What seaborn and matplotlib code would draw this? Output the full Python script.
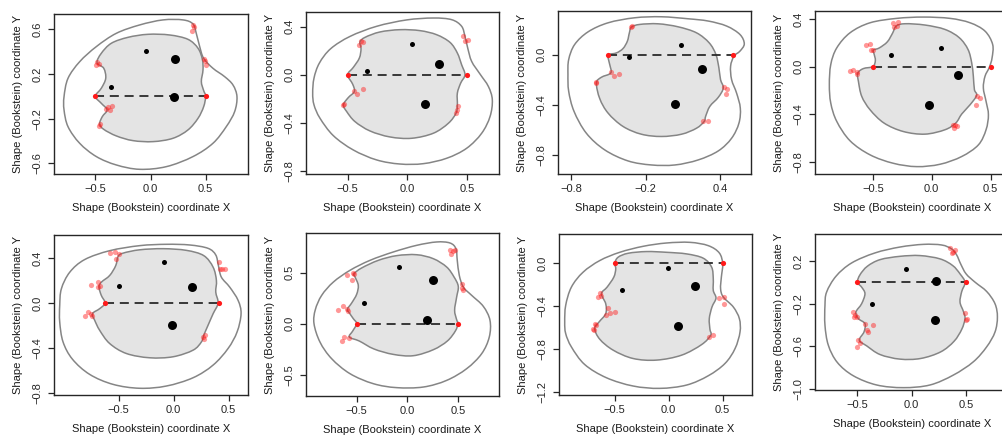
#!/usr/bin/env python3
"""Eight Bookstein shape panels: outer/inner outlines, landmarks, baseline."""
import numpy as np
import matplotlib
matplotlib.use("Agg")
import matplotlib.pyplot as plt
from matplotlib.path import Path
from matplotlib.patches import PathPatch
import seaborn as sns

# ---- data (Bookstein coordinates) ----
BASE = [(-0.5, 0.0), (0.5, 0.0)]

P1_OUTER = [(-0.784, -0.003), (-0.748, 0.161), (-0.642, 0.310), (-0.491, 0.445), (-0.310, 0.564),
            (-0.098, 0.639), (0.113, 0.684), (0.295, 0.684), (0.385, 0.648), (0.415, 0.564),
            (0.446, 0.445), (0.482, 0.340), (0.566, 0.251), (0.672, 0.176), (0.748, 0.101),
            (0.784, -0.003), (0.763, -0.137), (0.687, -0.272), (0.566, -0.421), (0.385, -0.540),
            (0.144, -0.630), (-0.098, -0.654), (-0.310, -0.615), (-0.491, -0.540), (-0.642, -0.421),
            (-0.748, -0.272), (-0.784, -0.122)]
P1_INNER = [(-0.5, 0.0), (-0.446, 0.072), (-0.406, 0.161), (-0.424, 0.251), (-0.485, 0.301),
            (-0.446, 0.385), (-0.355, 0.475), (-0.204, 0.528), (-0.023, 0.555), (0.174, 0.549),
            (0.340, 0.510), (0.431, 0.430), (0.470, 0.331), (0.476, 0.236), (0.461, 0.131),
            (0.482, 0.051), (0.5, 0.0), (0.482, -0.093), (0.431, -0.197), (0.340, -0.301),
            (0.204, -0.376), (0.023, -0.406), (-0.159, -0.397), (-0.310, -0.355), (-0.424, -0.296),
            (-0.461, -0.248), (-0.437, -0.182), (-0.394, -0.122), (-0.446, -0.063)]
P1_RED = [(-0.485, 0.310), (-0.467, 0.290), (-0.497, 0.278), (0.385, 0.642), (0.373, 0.588),
          (0.391, 0.624), (0.482, 0.337), (0.494, 0.313), (0.506, 0.284), (-0.406, -0.116),
          (-0.382, -0.099), (-0.346, -0.087), (-0.370, -0.122), (-0.461, -0.251), (-0.467, -0.263)]
P1_SMALL = [(-0.355, 0.081), (-0.038, 0.409)]
P1_LARGE = [(0.219, 0.337), (0.210, -0.009)]

P2_OUTER = [(-0.793, -0.153), (-0.782, -0.028), (-0.737, 0.097), (-0.642, 0.217), (-0.480, 0.319),
            (-0.257, 0.403), (-0.006, 0.456), (0.218, 0.472), (0.372, 0.458), (0.455, 0.403),
            (0.483, 0.319), (0.506, 0.222), (0.539, 0.111), (0.609, 0.006), (0.679, -0.097),
            (0.712, -0.208), (0.693, -0.347), (0.623, -0.486), (0.497, -0.611), (0.330, -0.694),
            (0.134, -0.739), (-0.061, -0.742), (-0.257, -0.708), (-0.453, -0.625), (-0.620, -0.506),
            (-0.732, -0.361), (-0.782, -0.250)]
P2_INNER = [(-0.5, 0.0), (-0.453, 0.061), (-0.402, 0.139), (-0.388, 0.217), (-0.397, 0.272),
            (-0.355, 0.311), (-0.229, 0.356), (-0.061, 0.375), (0.106, 0.367), (0.246, 0.333),
            (0.358, 0.269), (0.419, 0.181), (0.455, 0.083), (0.483, 0.0), (0.447, -0.069),
            (0.419, -0.153), (0.419, -0.250), (0.408, -0.319), (0.344, -0.403), (0.218, -0.486),
            (0.036, -0.528), (-0.145, -0.517), (-0.313, -0.467), (-0.439, -0.389), (-0.508, -0.306),
            (-0.536, -0.250), (-0.494, -0.189), (-0.444, -0.139), (-0.458, -0.078)]
P2_RED = [(-0.391, 0.278), (-0.374, 0.269), (-0.402, 0.250), (0.464, 0.319), (0.483, 0.278),
          (0.506, 0.292), (-0.444, -0.133), (-0.419, -0.156), (-0.374, -0.119), (-0.542, -0.250),
          (-0.527, -0.244), (0.413, -0.292), (0.422, -0.256), (0.408, -0.319)]
P2_SMALL = [(-0.335, 0.033), (0.039, 0.258)]
P2_LARGE = [(0.268, 0.089), (0.148, -0.242)]

P3_OUTER = [(-0.826, -0.160), (-0.820, -0.040), (-0.772, 0.080), (-0.664, 0.181), (-0.503, 0.253),
            (-0.289, 0.293), (-0.074, 0.301), (0.141, 0.285), (0.302, 0.267), (0.450, 0.227),
            (0.557, 0.160), (0.592, 0.085), (0.557, 0.027), (0.509, -0.013), (0.482, -0.093),
            (0.490, -0.200), (0.530, -0.307), (0.560, -0.427), (0.549, -0.547), (0.490, -0.667),
            (0.383, -0.768), (0.221, -0.840), (0.034, -0.880), (-0.154, -0.880), (-0.342, -0.848),
            (-0.530, -0.760), (-0.678, -0.627), (-0.777, -0.453), (-0.820, -0.293)]
P3_INNER = [(-0.5, 0.0), (-0.436, 0.013), (-0.383, 0.048), (-0.348, 0.107), (-0.332, 0.173),
            (-0.315, 0.219), (-0.248, 0.240), (-0.101, 0.245), (0.060, 0.221), (0.208, 0.173),
            (0.310, 0.093), (0.364, 0.0), (0.388, -0.107), (0.401, -0.200), (0.423, -0.267),
            (0.383, -0.341), (0.315, -0.413), (0.281, -0.493), (0.270, -0.533), (0.208, -0.587),
            (0.087, -0.635), (-0.074, -0.653), (-0.235, -0.635), (-0.383, -0.573), (-0.503, -0.467),
            (-0.570, -0.352), (-0.597, -0.227), (-0.557, -0.181), (-0.482, -0.147), (-0.490, -0.080),
            (-0.503, -0.027)]
P3_RED = [(-0.321, 0.219), (-0.307, 0.227), (-0.477, -0.139), (-0.455, -0.168), (-0.417, -0.152),
          (-0.603, -0.219), (-0.597, -0.227), (0.431, -0.261), (0.455, -0.272), (0.442, -0.315),
          (0.256, -0.533), (0.297, -0.528)]
P3_SMALL = [(-0.337, -0.019), (0.087, 0.075)]
P3_LARGE = [(0.251, -0.112), (0.034, -0.392)]

P4_OUTER = [(-0.870, -0.152), (-0.858, 0.017), (-0.807, 0.157), (-0.694, 0.284), (-0.524, 0.368),
            (-0.297, 0.405), (-0.071, 0.416), (0.156, 0.405), (0.326, 0.368), (0.453, 0.298),
            (0.518, 0.186), (0.513, 0.073), (0.490, -0.006), (0.453, -0.082), (0.439, -0.180),
            (0.462, -0.292), (0.482, -0.405), (0.462, -0.531), (0.397, -0.658), (0.255, -0.756),
            (0.071, -0.821), (-0.127, -0.841), (-0.326, -0.813), (-0.524, -0.742), (-0.694, -0.624),
            (-0.807, -0.461), (-0.858, -0.307)]
P4_INNER = [(-0.5, 0.0), (-0.479, 0.051), (-0.490, 0.107), (-0.496, 0.138), (-0.445, 0.157),
            (-0.377, 0.208), (-0.331, 0.284), (-0.303, 0.340), (-0.227, 0.360), (-0.057, 0.349),
            (0.113, 0.312), (0.235, 0.242), (0.309, 0.143), (0.340, 0.031), (0.354, -0.082),
            (0.363, -0.194), (0.382, -0.242), (0.326, -0.321), (0.255, -0.399), (0.204, -0.475),
            (0.113, -0.531), (-0.057, -0.568), (-0.241, -0.546), (-0.405, -0.475), (-0.524, -0.363),
            (-0.595, -0.250), (-0.623, -0.124), (-0.629, -0.056), (-0.581, -0.017)]
P4_RED = [(-0.326, 0.368), (-0.283, 0.371), (-0.292, 0.340), (-0.320, 0.332), (-0.558, 0.180),
          (-0.524, 0.186), (-0.501, 0.143), (-0.516, 0.138), (-0.694, -0.034), (-0.666, -0.025),
          (-0.637, -0.048), (-0.632, -0.062), (0.382, -0.245), (0.411, -0.264), (0.377, -0.326),
          (0.178, -0.489), (0.198, -0.495), (0.218, -0.503), (0.190, -0.517)]
P4_SMALL = [(-0.348, 0.101), (0.076, 0.152)]
P4_LARGE = [(0.227, -0.073), (-0.023, -0.321)]

# panel 5 sits off-centre against its own tick marks in the picture
P5_BASE = [(-0.624, 0.0), (0.409, 0.0)]
P5_OUTER = [(-1.036, -0.021), (-1.021, 0.127), (-0.945, 0.275), (-0.809, 0.388), (-0.582, 0.467),
            (-0.309, 0.512), (-0.067, 0.524), (0.145, 0.518), (0.312, 0.488), (0.382, 0.429),
            (0.406, 0.334), (0.433, 0.231), (0.509, 0.142), (0.585, 0.024), (0.612, -0.095),
            (0.576, -0.257), (0.494, -0.405), (0.358, -0.553), (0.176, -0.666), (-0.067, -0.740),
            (-0.309, -0.760), (-0.552, -0.725), (-0.764, -0.636), (-0.921, -0.500), (-1.006, -0.346),
            (-1.036, -0.169)]
P5_INNER = [(-0.624, 0.0), (-0.673, -0.050), (-0.739, -0.095), (-0.718, -0.154), (-0.673, -0.243),
            (-0.582, -0.361), (-0.430, -0.450), (-0.218, -0.488), (-0.006, -0.479), (0.176, -0.420),
            (0.252, -0.346), (0.273, -0.287), (0.312, -0.198), (0.358, -0.095), (0.403, 0.0),
            (0.382, 0.098), (0.388, 0.201), (0.358, 0.320), (0.273, 0.423), (0.115, 0.470),
            (-0.097, 0.485), (-0.309, 0.475), (-0.461, 0.445), (-0.506, 0.415), (-0.527, 0.334),
            (-0.582, 0.246), (-0.658, 0.186), (-0.679, 0.142), (-0.658, 0.068)]
P5_RED = [(-0.582, 0.447), (-0.536, 0.459), (-0.497, 0.438), (-0.521, 0.393), (-0.748, 0.163),
          (-0.688, 0.186), (-0.667, 0.151), (-0.685, 0.142), (-0.809, -0.115), (-0.779, -0.080),
          (-0.748, -0.095), (-0.739, -0.118), (0.409, 0.370), (0.418, 0.305), (0.442, 0.305),
          (0.464, 0.305), (0.267, -0.302), (0.282, -0.287), (0.273, -0.322)]
P5_SMALL = [(-0.500, 0.148), (-0.091, 0.364)]
P5_LARGE = [(0.170, 0.139), (-0.012, -0.192)]

P6_OUTER = [(-0.921, 0.0), (-0.908, 0.137), (-0.845, 0.278), (-0.730, 0.408), (-0.566, 0.523),
            (-0.368, 0.621), (-0.138, 0.703), (0.092, 0.768), (0.289, 0.801), (0.421, 0.791),
            (0.480, 0.735), (0.493, 0.621), (0.513, 0.474), (0.553, 0.359), (0.635, 0.278),
            (0.750, 0.170), (0.816, 0.033), (0.809, -0.131), (0.734, -0.294), (0.586, -0.441),
            (0.388, -0.556), (0.158, -0.621), (-0.105, -0.627), (-0.336, -0.588), (-0.566, -0.490),
            (-0.747, -0.343), (-0.862, -0.180)]
P6_INNER = [(-0.5, 0.0), (-0.533, 0.049), (-0.572, 0.105), (-0.592, 0.141), (-0.549, 0.203),
            (-0.500, 0.288), (-0.484, 0.376), (-0.516, 0.458), (-0.526, 0.490), (-0.451, 0.546),
            (-0.286, 0.621), (-0.105, 0.667), (0.092, 0.676), (0.257, 0.637), (0.388, 0.556),
            (0.461, 0.458), (0.503, 0.366), (0.487, 0.261), (0.467, 0.131), (0.487, 0.039),
            (0.5, 0.0), (0.474, -0.072), (0.395, -0.170), (0.257, -0.255), (0.059, -0.314),
            (-0.138, -0.301), (-0.329, -0.248), (-0.474, -0.170), (-0.572, -0.131), (-0.539, -0.072)]
P6_RED = [(0.418, 0.719), (0.451, 0.712), (0.467, 0.719), (0.434, 0.680), (0.536, 0.388),
          (0.543, 0.353), (0.553, 0.327), (-0.599, 0.480), (-0.539, 0.497), (-0.526, 0.484),
          (-0.546, 0.425), (-0.681, 0.131), (-0.632, 0.170), (-0.599, 0.144), (-0.582, 0.124),
          (-0.648, -0.170), (-0.622, -0.131), (-0.576, -0.144)]
P6_SMALL = [(-0.424, 0.203), (-0.079, 0.556)]
P6_LARGE = [(0.250, 0.431), (0.191, 0.039)]

P7_OUTER = [(-0.964, -0.549), (-0.955, -0.394), (-0.902, -0.223), (-0.794, -0.084), (-0.639, 0.025),
            (-0.454, 0.102), (-0.237, 0.158), (-0.020, 0.189), (0.197, 0.195), (0.367, 0.164),
            (0.469, 0.096), (0.500, -0.006), (0.488, -0.130), (0.481, -0.239), (0.506, -0.316),
            (0.599, -0.409), (0.655, -0.518), (0.661, -0.642), (0.615, -0.797), (0.522, -0.936),
            (0.367, -1.051), (0.166, -1.138), (-0.082, -1.169), (-0.330, -1.147), (-0.577, -1.070),
            (-0.779, -0.946), (-0.902, -0.782), (-0.955, -0.657)]
P7_INNER = [(-0.5, 0.0), (-0.469, 0.056), (-0.376, 0.093), (-0.206, 0.109), (-0.020, 0.102),
            (0.166, 0.087), (0.320, 0.047), (0.398, -0.037), (0.413, -0.146), (0.413, -0.254),
            (0.438, -0.326), (0.401, -0.409), (0.376, -0.518), (0.382, -0.617), (0.389, -0.673),
            (0.305, -0.760), (0.119, -0.859), (-0.113, -0.905), (-0.330, -0.890), (-0.515, -0.812),
            (-0.639, -0.710), (-0.686, -0.611), (-0.646, -0.549), (-0.584, -0.471), (-0.584, -0.378),
            (-0.624, -0.285), (-0.571, -0.223), (-0.509, -0.130), (-0.491, -0.053)]
P7_RED = [(-0.639, -0.279), (-0.624, -0.307), (-0.652, -0.316), (-0.562, -0.418), (-0.546, -0.462),
          (-0.500, -0.455), (-0.577, -0.486), (-0.701, -0.611), (-0.686, -0.564), (-0.670, -0.580),
          (-0.692, -0.626), (0.469, -0.326), (0.512, -0.319), (0.515, -0.378), (0.373, -0.688),
          (0.413, -0.673)]
P7_SMALL = [(-0.005, -0.047), (-0.432, -0.251)]
P7_LARGE = [(0.243, -0.214), (0.088, -0.586)]

P8_OUTER = [(-0.800, -0.216), (-0.785, -0.092), (-0.698, 0.057), (-0.554, 0.181), (-0.338, 0.275),
            (-0.108, 0.330), (0.108, 0.355), (0.277, 0.349), (0.369, 0.312), (0.415, 0.256),
            (0.452, 0.172), (0.502, 0.079), (0.585, 0.001), (0.692, -0.086), (0.769, -0.201),
            (0.791, -0.325), (0.769, -0.465), (0.692, -0.604), (0.569, -0.744), (0.385, -0.868),
            (0.169, -0.961), (-0.077, -0.986), (-0.323, -0.961), (-0.538, -0.875), (-0.686, -0.750),
            (-0.769, -0.589), (-0.800, -0.402)]
P8_INNER = [(-0.5, 0.0), (-0.477, 0.070), (-0.409, 0.150), (-0.292, 0.212), (-0.108, 0.243),
            (0.077, 0.250), (0.262, 0.219), (0.378, 0.157), (0.446, 0.079), (0.492, 0.0),
            (0.462, -0.086), (0.446, -0.185), (0.477, -0.272), (0.492, -0.340), (0.462, -0.440),
            (0.391, -0.552), (0.268, -0.651), (0.083, -0.713), (-0.108, -0.719), (-0.292, -0.676),
            (-0.415, -0.595), (-0.483, -0.542), (-0.440, -0.465), (-0.431, -0.387), (-0.492, -0.340),
            (-0.514, -0.278), (-0.462, -0.201), (-0.431, -0.107), (-0.462, -0.045)]
P8_RED = [(0.354, 0.318), (0.385, 0.281), (0.400, 0.305), (0.369, 0.274), (-0.538, -0.278),
          (-0.532, -0.325), (-0.523, -0.303), (-0.508, -0.325), (-0.431, -0.387), (-0.415, -0.449),
          (-0.400, -0.465), (-0.354, -0.396), (-0.492, -0.542), (-0.477, -0.564), (-0.502, -0.604),
          (0.492, -0.284), (0.508, -0.340), (0.502, -0.356)]
P8_SMALL = [(-0.055, 0.125), (-0.369, -0.201)]
P8_LARGE = [(0.225, 0.014), (0.218, -0.356)]

XTICKS = [[-0.5, 0.0, 0.5], [-0.5, 0.0, 0.5], [-0.8, -0.2, 0.4], [-0.5, 0.0, 0.5],
          [-0.5, 0.0, 0.5], [-0.5, 0.0, 0.5], [-0.5, 0.0, 0.5], [-0.5, 0.0, 0.5]]
YTICKS = [[-0.6, -0.2, 0.2, 0.6], [-0.8, -0.4, 0.0, 0.4], [-0.8, -0.4, 0.0], [-0.8, -0.4, 0.0, 0.4],
          [-0.8, -0.4, 0.0, 0.4], [-0.5, 0.0, 0.5], [-1.2, -0.8, -0.4, 0.0], [-1.0, -0.6, -0.2, 0.2]]
X_LABEL = "Shape (Bookstein) coordinate X"
Y_LABEL = "Shape (Bookstein) coordinate Y"

PANELS = [
    (BASE, P1_OUTER, P1_INNER, P1_RED, P1_SMALL, P1_LARGE),
    (BASE, P2_OUTER, P2_INNER, P2_RED, P2_SMALL, P2_LARGE),
    (BASE, P3_OUTER, P3_INNER, P3_RED, P3_SMALL, P3_LARGE),
    (BASE, P4_OUTER, P4_INNER, P4_RED, P4_SMALL, P4_LARGE),
    (P5_BASE, P5_OUTER, P5_INNER, P5_RED, P5_SMALL, P5_LARGE),
    (BASE, P6_OUTER, P6_INNER, P6_RED, P6_SMALL, P6_LARGE),
    (BASE, P7_OUTER, P7_INNER, P7_RED, P7_SMALL, P7_LARGE),
    (BASE, P8_OUTER, P8_INNER, P8_RED, P8_SMALL, P8_LARGE),
]

# ---- layout: axes box in pixels (left, top, right, bottom) and view limits ----
W, H = 1003, 443
BOXES = [(54, 14, 248, 174), (306, 12, 499, 174), (558, 11, 751, 174), (815, 11, 1009, 174),
         (54, 235, 248, 395), (306, 233, 499, 396), (559, 234, 752, 395), (815, 234, 1009, 390)]
XLIMS = [(-0.875, 0.884), (-0.849, 0.768), (-0.906, 0.646), (-0.992, 0.657),
         (-1.088, 0.675), (-1.0, 0.905), (-1.017, 0.772), (-0.892, 0.898)]
YLIMS = [(-0.696, 0.737), (-0.825, 0.522), (-0.952, 0.347), (-0.903, 0.467),
         (-0.820, 0.607), (-0.709, 0.889), (-1.231, 0.273), (-1.008, 0.452)]

OUTLINE = "#858585"
FILL = "#e4e4e4"
RED = "#ff1a1a"


def closed_curve(points):
    """Smooth closed path through the outline points (cubic Bezier segments)."""
    p = np.asarray(points, dtype=float)
    n = len(p)
    verts, codes = [p[0]], [Path.MOVETO]
    for i in range(n):
        p0, p1, p2, p3 = p[i - 1], p[i], p[(i + 1) % n], p[(i + 2) % n]
        verts += [p1 + (p2 - p0) / 6.0, p2 - (p3 - p1) / 6.0, p2]
        codes += [Path.CURVE4] * 3
    verts.append(p[0])
    codes.append(Path.CLOSEPOLY)
    return Path(verts, codes)


def fmt(v):
    return f"{v:.1f}".replace("-", "\u2212")


def main():
    sns.set_theme(style="white")
    plt.rcParams.update({
        "font.family": ["Liberation Sans", "DejaVu Sans"],
        "font.size": 8,
        "axes.edgecolor": "#262626",
        "axes.linewidth": 1.0,
        "xtick.color": "#262626",
        "ytick.color": "#262626",
        "axes.labelcolor": "#1a1a1a",
        "text.color": "#1a1a1a",
    })

    fig = plt.figure(figsize=(W / 100, H / 100), dpi=100)

    for k, (base, outer, inner, red, small, large) in enumerate(PANELS):
        l, t, r, b = BOXES[k]
        ax = fig.add_axes([l / W, 1 - b / H, (r - l) / W, (b - t) / H])

        ax.add_patch(PathPatch(closed_curve(outer), facecolor="none",
                               edgecolor=OUTLINE, lw=1.1, zorder=1))
        ax.add_patch(PathPatch(closed_curve(inner), facecolor=FILL,
                               edgecolor=OUTLINE, lw=1.1, zorder=1.5))

        bx, by = zip(*base)
        ax.plot(bx, by, color="#2a2a2a", lw=1.3, ls=(0, (5, 3.2)), zorder=2)

        rx, ry = zip(*red)
        sns.scatterplot(x=list(rx), y=list(ry), ax=ax, color=RED, alpha=0.45,
                        s=14, linewidth=0, zorder=3)
        sns.scatterplot(x=list(bx), y=list(by), ax=ax, color=RED, s=14,
                        linewidth=0, zorder=4)
        sx, sy = zip(*small)
        sns.scatterplot(x=list(sx), y=list(sy), ax=ax, color="black", s=13,
                        linewidth=0, zorder=4)
        lx, ly = zip(*large)
        sns.scatterplot(x=list(lx), y=list(ly), ax=ax, color="black", s=42,
                        linewidth=0, zorder=4)

        ax.set_xlim(*XLIMS[k])
        ax.set_ylim(*YLIMS[k])
        ax.set_xticks(XTICKS[k])
        ax.set_xticklabels([fmt(v) for v in XTICKS[k]])
        ax.set_yticks(YTICKS[k])
        ax.set_yticklabels([fmt(v) for v in YTICKS[k]], rotation=90, va="center")
        ax.tick_params(bottom=True, left=True, direction="out", length=4,
                       width=0.9, labelsize=8)
        ax.tick_params(axis="x", pad=3)
        ax.tick_params(axis="y", pad=4)
        ax.set_xlabel(X_LABEL, fontsize=8, labelpad=7)
        ax.set_ylabel(Y_LABEL, fontsize=8, labelpad=7)
        for sp in ax.spines.values():
            sp.set_visible(True)

    fig.savefig("out.png", dpi=100)


if __name__ == "__main__":
    main()
